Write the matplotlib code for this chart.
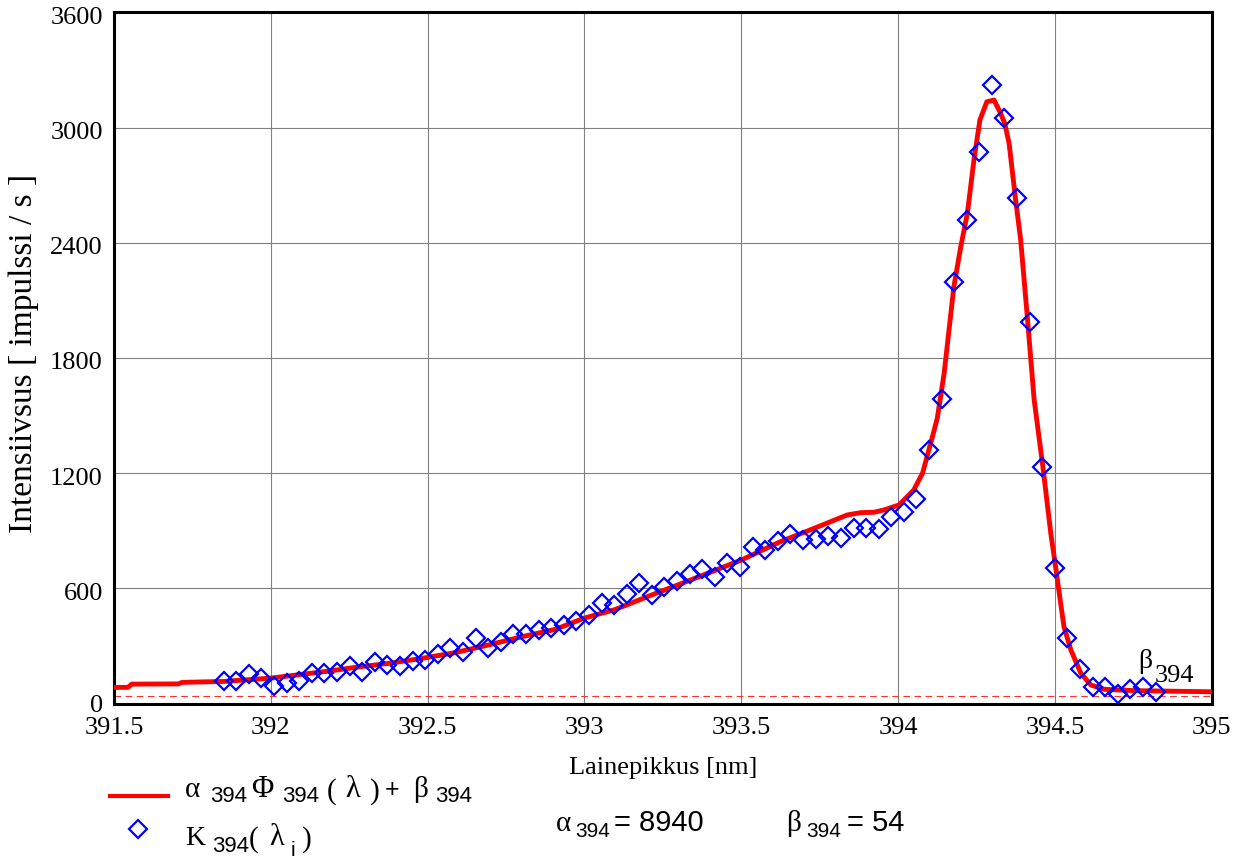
import matplotlib
matplotlib.use("Agg")
import matplotlib.pyplot as plt
from matplotlib.lines import Line2D
from matplotlib.transforms import ScaledTranslation

# ---- measured spectrum K394(lambda_i) ----
wavelength_nm = [
    391.850, 391.890, 391.930, 391.970, 392.011, 392.051, 392.091, 392.131, 392.171, 392.211,
    392.252, 392.292, 392.332, 392.372, 392.412, 392.452, 392.492, 392.533, 392.573, 392.613,
    392.653, 392.693, 392.733, 392.773, 392.814, 392.854, 392.894, 392.934, 392.974, 393.014,
    393.055, 393.095, 393.135, 393.175, 393.215, 393.255, 393.295, 393.336, 393.376, 393.416,
    393.456, 393.496, 393.536, 393.576, 393.617, 393.657, 393.697, 393.737, 393.777, 393.817,
    393.858, 393.898, 393.938, 393.978, 394.018, 394.058, 394.098, 394.139, 394.179, 394.219,
    394.259, 394.299, 394.339, 394.379, 394.420, 394.460, 394.500, 394.540, 394.580, 394.620,
    394.661, 394.701, 394.741, 394.781, 394.821,
]
intensity = [
    119, 119, 152, 134, 91, 108, 119, 157, 157, 166,
    195, 165, 218, 200, 195, 223, 227, 258, 287, 270,
    340, 287, 320, 362, 362, 383, 395, 410, 431, 463,
    523, 515, 569, 626, 565, 605, 640, 673, 699, 657,
    733, 713, 814, 799, 846, 881, 852, 855, 872, 860,
    916, 916, 907, 973, 996, 1064, 1320, 1584, 2197, 2518,
    2874, 3221, 3048, 2634, 1989, 1230, 704, 340, 178, 88,
    88, 49, 74, 88, 61,
]

# ---- fitted model alpha*Phi(lambda) + beta ----
model_nm = [
    391.500, 391.545, 391.557, 391.705, 391.718, 391.850, 392.000, 392.100, 392.200, 392.269,
    392.376, 392.482, 392.588, 392.695, 392.801, 392.907, 393.000, 393.099, 393.200, 393.338,
    393.500, 393.625, 393.732, 393.838, 393.881, 393.923, 393.955, 394.003, 394.050, 394.078,
    394.104, 394.125, 394.147, 394.178, 394.200, 394.221, 394.242, 394.261, 394.283, 394.306,
    394.327, 394.340, 394.354, 394.375, 394.391, 394.413, 394.434, 394.462, 394.487, 394.503,
    394.517, 394.529, 394.551, 394.583, 394.615, 394.657, 394.753, 395.000,
]
model_value = [
    84, 84, 101, 102, 110, 115, 132, 152, 172, 188,
    209, 235, 265, 305, 348, 386, 445, 490, 556, 643,
    747, 843, 912, 982, 994, 996, 1008, 1034, 1112, 1199,
    1355, 1485, 1720, 2171, 2379, 2553, 2831, 3039, 3134, 3143,
    3074, 3022, 2918, 2622, 2414, 1997, 1581, 1230, 886, 704,
    539, 400, 279, 157, 96, 74, 67, 61,
]

alpha_394 = 8940
beta_394 = 54
marker_level = 39

x_ticks = [391.5, 392, 392.5, 393, 393.5, 394, 394.5, 395]
x_tick_labels = ["391.5", "392", "392.5", "393", "393.5", "394", "394.5", "395"]
y_ticks = [0, 600, 1200, 1800, 2400, 3000, 3600]
y_tick_labels = ["0", "600", "1200", "1800", "2400", "3000", "3600"]

SERIF = "Liberation Serif"
SANS = "Liberation Sans"
W, H, DPI = 1248, 859, 100

fig = plt.figure(figsize=(W / DPI, H / DPI), dpi=DPI)
fig.patch.set_facecolor("white")


def fx(px):
    return px / W


def fy(py):
    return 1 - py / H


ax = fig.add_axes([fx(113.9), fy(703.5), (1211.7 - 113.9) / W, (703.5 - 12.3) / H])
ax.set_xlim(391.5, 395)
ax.set_ylim(0, 3600)

ax.set_xticks(x_ticks)
ax.set_xticklabels(x_tick_labels, family=SERIF, fontsize=19)
ax.set_yticks(y_ticks)
ax.set_yticklabels(y_tick_labels, family=SERIF, fontsize=19)
ax.tick_params(length=0)
ax.tick_params(axis="y", pad=8)
ax.tick_params(axis="x", pad=10)
shift_down = ScaledTranslation(0, -3 / DPI, fig.dpi_scale_trans)
for lab in ax.get_yticklabels()[1:]:
    lab.set_transform(lab.get_transform() + shift_down)
ax.grid(True, color="#808080", linewidth=0.8)
ax.set_axisbelow(True)
for sp in ax.spines.values():
    sp.set_linewidth(2.2)
    sp.set_color("black")

ax.axhline(marker_level, color="#ff3030", linewidth=0.8, dashes=(6, 4), zorder=2)
ax.plot(model_nm, model_value, color="#ff0000", linewidth=3.5, zorder=3,
        solid_joinstyle="round")
ax.plot(wavelength_nm, intensity, linestyle="none", marker="D", markersize=8.7,
        markerfacecolor="none", markeredgecolor="#0000ff", markeredgewidth=1.6, zorder=4)

ax.set_xlabel("Lainepikkus [nm]", family=SERIF, fontsize=19)
ax.xaxis.set_label_coords(0.5, -0.077)
ax.set_ylabel("Intensiivsus [ impulssi / s ]", family=SERIF, fontsize=24)
ax.yaxis.set_label_coords(-0.0685, 0.506)


def runs(items):
    for x, y, s, fam, size in items:
        fig.text(fx(x), fy(y), s, family=fam, fontsize=size, ha="left", va="baseline")


# marker label near the baseline level
runs([
    (1138, 668, "\u03b2", SERIF, 20),
    (1155, 682, "394", SERIF, 19),
])

# legend entries
fig.add_artist(Line2D([fx(110), fx(168)], [fy(795.7), fy(795.7)], color="#ff0000",
                      linewidth=3.0, transform=fig.transFigure))
fig.add_artist(Line2D([fx(138.3)], [fy(829.3)], marker="D", markersize=8.7,
                      markerfacecolor="none", markeredgecolor="#0000ff",
                      markeredgewidth=1.6, transform=fig.transFigure))
runs([
    (185, 797, "\u03b1", SERIF, 21),
    (210, 802, "394", SANS, 16),
    (251, 797, "\u03a6", SERIF, 22),
    (281.7, 802, "394", SANS, 16),
    (327, 799, "(", SERIF, 21),
    (345, 797, "\u03bb", SERIF, 22),
    (370, 799, ")", SERIF, 21),
    (385, 797, "+", SANS, 18),
    (413.3, 797, "\u03b2", SERIF, 21),
    (435, 802, "394", SANS, 16),
    (185, 845, "K", SERIF, 20),
    (211.7, 851.7, "394", SANS, 16),
    (249, 847, "(", SERIF, 21),
    (269, 845, "\u03bb", SERIF, 22),
    (291, 856, "i", SANS, 15),
    (302, 847, ")", SERIF, 21),
])

# fitted parameters
runs([
    (556, 831, "\u03b1", SERIF, 21),
    (575, 837, "394", SANS, 15),
    (614, 831, "= %d" % alpha_394, SANS, 21),
    (786, 831, "\u03b2", SERIF, 21),
    (806, 837, "394", SANS, 15),
    (847, 831, "= %d" % beta_394, SANS, 21),
])

fig.savefig("out.png", dpi=DPI, facecolor="white")
